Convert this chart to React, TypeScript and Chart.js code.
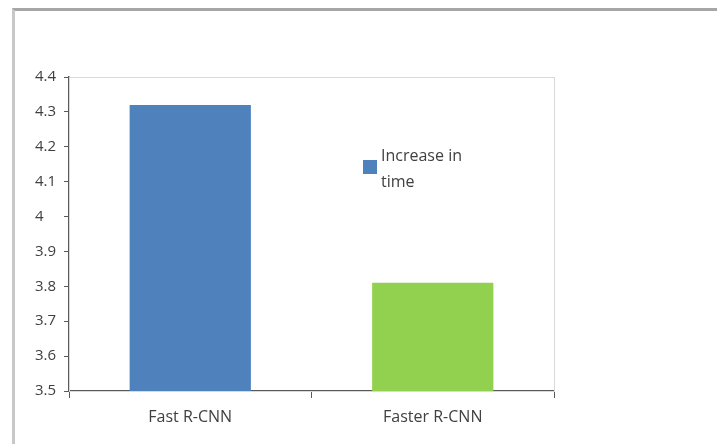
import React, { useEffect, useRef } from "react";
import { Chart, registerables } from "chart.js";

Chart.register(...registerables);

// Chart data
const categories = ["Fast R-CNN", "Faster R-CNN"];
const seriesName = "Increase in time";
const seriesValues = [4.32, 3.81];
const barColors = ["#4F81BD", "#92D050"];
const yTickLabels = ["3.5", "3.6", "3.7", "3.8", "3.9", "4", "4.1", "4.2", "4.3", "4.4"];
const legendLines = ["Increase in", "time"];

const FONT = "'Open Sans', 'Noto Sans', sans-serif";
const AXIS = "#595959";

// Light border around the plot area (top and right edges show past the axes)
const plotBorder = {
  id: "plotBorder",
  beforeDatasetsDraw(chart: any) {
    const { ctx, chartArea } = chart;
    ctx.save();
    ctx.strokeStyle = "#d9d9d9";
    ctx.lineWidth = 1;
    ctx.strokeRect(
      Math.round(chartArea.left) + 0.5,
      Math.round(chartArea.top) + 0.5,
      Math.round(chartArea.right - chartArea.left),
      Math.round(chartArea.bottom - chartArea.top)
    );
    ctx.restore();
  },
};

// Legend drawn inside the plot area with wrapped text
const innerLegend = {
  id: "innerLegend",
  afterDraw(chart: any) {
    const { ctx, chartArea } = chart;
    const x = chartArea.left + 294;
    const y = chartArea.top + 83;
    ctx.save();
    ctx.fillStyle = barColors[0];
    ctx.fillRect(x, y, 14, 14);
    ctx.fillStyle = "#404040";
    ctx.font = `16px ${FONT}`;
    ctx.textBaseline = "middle";
    ctx.textAlign = "left";
    legendLines.forEach((line, i) => {
      ctx.fillText(line, x + 18, y - 4 + i * 26);
    });
    ctx.restore();
  },
};

export default function App() {
  const canvasRef = useRef<HTMLCanvasElement | null>(null);

  useEffect(() => {
    if (!canvasRef.current) return;
    const chart = new Chart(canvasRef.current, {
      type: "bar",
      data: {
        labels: categories,
        datasets: [
          {
            label: seriesName,
            data: seriesValues,
            backgroundColor: barColors,
            borderWidth: 0,
            barPercentage: 0.5,
            categoryPercentage: 1,
          },
        ],
      },
      options: {
        animation: false,
        responsive: false,
        maintainAspectRatio: false,
        layout: { padding: { left: 35, top: 77, right: 163, bottom: 0 } },
        plugins: {
          legend: { display: false },
          tooltip: { enabled: false },
        },
        scales: {
          x: {
            grid: {
              drawOnChartArea: false,
              drawTicks: true,
              tickLength: 7,
              color: AXIS,
              offset: true,
            },
            border: { display: true, color: AXIS, width: 1.5 },
            ticks: {
              color: "#404040",
              font: { family: FONT, size: 16 },
              padding: 10,
            },
            afterFit(scale: any) {
              scale.height = 53;
            },
          },
          y: {
            min: 3.5,
            max: 4.4,
            ticks: {
              stepSize: 0.1,
              color: "#404040",
              font: { family: FONT, size: 15 },
              crossAlign: "far",
              padding: 2,
              callback: (_v: any, i: number) => yTickLabels[i],
            },
            grid: {
              drawOnChartArea: false,
              drawTicks: true,
              tickLength: 5,
              color: AXIS,
            },
            border: { display: true, color: AXIS, width: 1.5 },
            afterFit(scale: any) {
              scale.width = 34;
            },
          },
        },
      },
      plugins: [plotBorder, innerLegend],
    });
    return () => chart.destroy();
  }, []);

  return (
    <div style={{ position: "absolute", left: 0, top: 0, width: 717, height: 444, background: "#fff", overflow: "hidden" }}>
      <div
        style={{
          position: "absolute",
          left: 12,
          top: 8,
          width: 760,
          height: 480,
          borderTop: "3px solid #a6a6a6",
          borderLeft: "3px solid #c8c8c8",
        }}
      />
      <canvas ref={canvasRef} width={717} height={444} style={{ position: "absolute", left: 0, top: 0 }} />
    </div>
  );
}
